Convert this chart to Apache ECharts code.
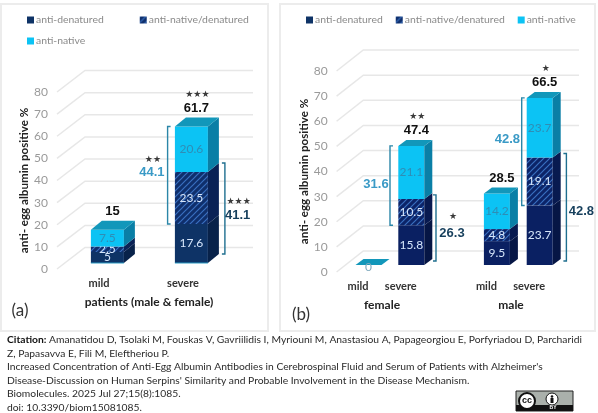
<!DOCTYPE html>
<html>
<head>
<meta charset="utf-8">
<style>html,body{margin:0;padding:0;background:#fff}#chart{width:598px;height:413px}</style>
<script src="https://cdn.jsdelivr.net/npm/echarts@6/dist/echarts.min.js"></script>
</head>
<body>
<div id="chart"></div>
<script>
// Category labels
const categoriesA = ['mild', 'severe'];
const categoriesB = ['mild', 'severe', '', 'mild', 'severe'];
const yTicks = [0, 10, 20, 30, 40, 50, 60, 70, 80];

// Panel (a): male and female patients
const denaturedA = [5, 17.6];
const mixedA = [2.5, 23.5];
const nativeA = [7.5, 20.6];
const totalsA = [15, 61.7];
const totalStarsA = [0, 3];

// Panel (b): split by sex; the empty category separates female from male
const denaturedB = [0, 15.8, null, 9.5, 23.7];
const mixedB = [0, 10.5, null, 4.8, 19.1];
const nativeB = [0, 21.1, null, 14.2, 23.7];
const totalsB = [null, 47.4, null, 28.5, 66.5];
const totalStarsB = [0, 2, 0, 0, 1];

// Bracketed sub-totals: category, lower value, upper value, significance stars
const bracketCatsA = [1, 1];
const bracketLowA = [17.6, 0];
const bracketHighA = [61.7, 41.1];
const bracketStarsA = [2, 3];
const bracketCatsB = [1, 1, 4, 4];
const bracketLowB = [15.8, 0, 23.7, 0];
const bracketHighB = [47.4, 26.3, 66.5, 42.8];
const bracketStarsB = [0, 1, 0, 0];

const citationLines = [
  '{b|Citation:} Amanatidou D, Tsolaki M, Fouskas V, Gavriilidis I, Myriouni M, Anastasiou A, Papageorgiou E, Porfyriadou D, Parcharidi',
  'Z, Papasavva E, Fili M, Eleftheriou P.',
  'Increased Concentration of Anti-Egg Albumin Antibodies in Cerebrospinal Fluid and Serum of Patients with Alzheimer\'s',
  'Disease-Discussion on Human Serpins\' Similarity and Probable Involvement in the Disease Mechanism.',
  'Biomolecules. 2025 Jul 27;15(8):1085.',
  'doi: 10.3390/biom15081085.'
];

// Pseudo-3D geometry of each panel
const geomA = { barW: 33, dx: 8.4, floor: 6, depthX: 11, depthY: 9, wallX: 28, wallY: 21.5, wallEnd: 253, baseEdge: '#2a9cc4' };
const geomB = { barW: 26, dx: 10.5, floor: 7, depthX: 8, depthY: 6, wallX: 26.7, wallY: 21, wallEnd: 579, baseEdge: null };

// Bracket placement: side, distance from the bar, lift, label and star offsets
const bracketLayoutA = [
  { side: -1, gap: 7.3, lift: 0, labelDx: -15.7, labelDy: -3, starDy: -16, color: '#3a9ac6', line: '#2b86a8' },
  { side: 1, gap: 17, lift: 9, labelDx: 12.7, labelDy: 7, starDy: -7, color: '#163f5c', line: '#1f6f8f' }
];
const bracketLayoutB = [
  { side: -1, gap: 8.3, lift: 0, labelDx: -14, labelDy: -1, starDy: 0, color: '#3a9ac6', line: '#2b86a8' },
  { side: 1, gap: 11.7, lift: 4, labelDx: 16, labelDy: 5, starDy: -11, color: '#163f5c', line: '#1f6f8f' },
  { side: -1, gap: 5, lift: 0, labelDx: -14.3, labelDy: -12.5, starDy: 0, color: '#3a9ac6', line: '#2b86a8' },
  { side: 1, gap: 13.7, lift: 4, labelDx: 15, labelDy: 4, starDy: 0, color: '#163f5c', line: '#1f6f8f' }
];

const FONT = 'Lato, "Noto Sans", sans-serif';
const BOLD_NUM = '"Liberation Sans", Arial, sans-serif';

// Diagonal hatching used for the anti-native/denatured class
function hatch(base, stripe) {
  const c = document.createElement('canvas');
  c.width = c.height = 6;
  const g = c.getContext('2d');
  g.fillStyle = base;
  g.fillRect(0, 0, 6, 6);
  g.strokeStyle = stripe;
  g.lineWidth = 1.2;
  g.beginPath();
  g.moveTo(-1, 7); g.lineTo(7, -1);
  g.moveTo(-1, 1); g.lineTo(1, -1);
  g.moveTo(5, 7); g.lineTo(7, 5);
  g.stroke();
  return { image: c, repeat: 'repeat' };
}

const nativeFace = { front: '#0cc3f4', side: '#0a7fa6', label: '#2f8db5' };
const facesA = {
  denatured: { front: '#0e3366', side: '#08224a', label: '#d6e6fb' },
  mixed: { front: hatch('#0f2f6c', '#3a70c0'), side: '#0a2256', label: '#d6e6fb' },
  native: nativeFace
};
const facesB = {
  denatured: { front: '#0a2062', side: '#061645', label: '#d6e6fb' },
  mixed: { front: hatch('#0c2468', '#3a70c0'), side: '#081a50', label: '#d6e6fb' },
  native: nativeFace
};
const TOP_FACE = '#1297ba';

function polygon(points, fill) {
  return { type: 'polygon', shape: { points }, style: { fill } };
}

// One stacked block: front face, side face, and the lid on the top class
function segmentRenderer(geom, face, hasLid) {
  return function (params, api) {
    const cat = api.value(0), start = api.value(1), end = api.value(2);
    const p0 = api.coord([cat, start]), p1 = api.coord([cat, end]);
    const x0 = p0[0] + geom.dx - geom.barW / 2, x1 = x0 + geom.barW;
    const yb = p0[1] - geom.floor, yt = p1[1] - geom.floor;
    const dX = geom.depthX, dY = geom.depthY;
    const children = [];
    if (end > start) {
      children.push({ type: 'rect', shape: { x: x0, y: yt, width: geom.barW, height: yb - yt }, style: { fill: face.front } });
      children.push(polygon([[x1, yb], [x1 + dX, yb - dY], [x1 + dX, yt - dY], [x1, yt]], face.side));
      if (start === 0 && geom.baseEdge) {
        children.push({ type: 'line', shape: { x1: x0, y1: yb, x2: x1, y2: yb }, style: { stroke: geom.baseEdge, lineWidth: 1 } });
      }
    }
    if (hasLid) {
      children.push(polygon([[x0, yt], [x0 + dX, yt - dY], [x1 + dX, yt - dY], [x1, yt]], TOP_FACE));
    }
    if (end > start || hasLid) {
      children.push({
        type: 'text',
        style: {
          text: String(+(end - start).toFixed(1)), x: (x0 + x1) / 2, y: end > start ? (yb + yt) / 2 : yb + 2,
          align: 'center', verticalAlign: 'middle', fill: end > start ? face.label : '#7fa9bd',
          font: '12px ' + FONT
        }
      });
    }
    return { type: 'group', children };
  };
}

// Floor-to-wall lines and back-wall lines for each value tick
function wallRenderer(geom) {
  return function (params, api) {
    const p = api.coord([0, api.value(0)]);
    const left = params.coordSys.x;
    const bx = left + geom.wallX, by = p[1] - geom.wallY;
    return {
      type: 'polyline',
      shape: { points: [[left, p[1]], [bx, by], [geom.wallEnd, by]] },
      style: { stroke: '#e7e7e7', lineWidth: 1.5, fill: null }
    };
  };
}

// Total above a bar, with significance stars above it
function totalRenderer(geom, lift) {
  return function (params, api) {
    const cat = api.value(0), total = api.value(1), stars = api.value(2);
    const p = api.coord([cat, total]);
    const cx = p[0] + geom.dx + 5, y = p[1] - geom.floor - lift;
    const children = [{
      type: 'text',
      style: { text: String(total), x: cx, y, align: 'center', verticalAlign: 'middle', fill: '#111', font: 'bold 13px ' + BOLD_NUM }
    }];
    if (stars > 0) {
      children.push({
        type: 'text',
        style: { text: '★'.repeat(stars), x: cx + 1, y: y - 14, align: 'center', verticalAlign: 'middle', fill: '#3a3a3a', font: '9px "DejaVu Sans"' }
      });
    }
    return { type: 'group', children };
  };
}

// Square bracket beside a bar, labelled with the span it covers
function bracketRenderer(geom, layouts) {
  return function (params, api) {
    const cat = api.value(0), low = api.value(1), high = api.value(2), stars = api.value(3);
    const lay = layouts[params.dataIndex];
    const pLow = api.coord([cat, low]), pHigh = api.coord([cat, high]);
    const x0 = pLow[0] + geom.dx - geom.barW / 2;
    const edge = lay.side < 0 ? x0 : x0 + geom.barW;
    const x = edge + lay.side * lay.gap;
    const yb = pLow[1] - geom.floor - lay.lift, yt = pHigh[1] - geom.floor - lay.lift;
    const tick = -lay.side * 3;
    const mid = (yb + yt) / 2;
    const children = [{
      type: 'polyline',
      shape: { points: [[x + tick, yt], [x, yt], [x, yb], [x + tick, yb]] },
      style: { stroke: lay.line, lineWidth: 1.4, fill: null }
    }, {
      type: 'text',
      style: {
        text: (high - low).toFixed(1), x: x + lay.labelDx, y: mid + lay.labelDy, align: 'center', verticalAlign: 'middle',
        fill: lay.color, font: 'bold 13px ' + BOLD_NUM
      }
    }];
    if (stars > 0) {
      children.push({
        type: 'text',
        style: {
          text: '★'.repeat(stars), x: x + lay.labelDx + 1, y: mid + lay.starDy, align: 'center', verticalAlign: 'middle',
          fill: '#3a3a3a', font: '9px "DejaVu Sans"'
        }
      });
    }
    return { type: 'group', children };
  };
}

// Cumulative [category, start, end] rows for one stack class
function stackRows(values, below) {
  const rows = [];
  values.forEach((v, i) => {
    if (v === null) return;
    const start = below.reduce((s, arr) => s + arr[i], 0);
    rows.push([i, start, start + v]);
  });
  return rows;
}

function panelSeries(axis, geom, faces, den, mix, nat, totals, totalStars, lift, bCats, bLow, bHigh, bStars, layouts) {
  const common = { type: 'custom', xAxisIndex: axis, yAxisIndex: axis, clip: false, silent: true };
  const totalRows = [];
  totals.forEach((t, i) => { if (t !== null) totalRows.push([i, t, totalStars[i]]); });
  return [
    { ...common, z: 1, renderItem: wallRenderer(geom), data: yTicks.map(t => [t]), encode: { y: 0 } },
    { ...common, z: 2, name: 'anti-denatured', itemStyle: { color: faces.denatured.front }, renderItem: segmentRenderer(geom, faces.denatured, false), data: stackRows(den, []), encode: { x: 0, y: [1, 2] } },
    { ...common, z: 3, name: 'anti-native/denatured', itemStyle: { color: faces.mixed.front }, renderItem: segmentRenderer(geom, faces.mixed, false), data: stackRows(mix, [den]), encode: { x: 0, y: [1, 2] } },
    { ...common, z: 4, name: 'anti-native', itemStyle: { color: faces.native.front }, renderItem: segmentRenderer(geom, faces.native, true), data: stackRows(nat, [den, mix]), encode: { x: 0, y: [1, 2] } },
    { ...common, z: 5, renderItem: totalRenderer(geom, lift), data: totalRows, encode: { x: 0, y: 1 } },
    { ...common, z: 5, renderItem: bracketRenderer(geom, layouts), data: bCats.map((c, i) => [c, bLow[i], bHigh[i], bStars[i]]), encode: { x: 0, y: [1, 2] } }
  ];
}

function yAxisFor(index, gap) {
  return {
    type: 'value', gridIndex: index, min: 0, max: 80, interval: 10,
    axisLine: { show: false }, axisTick: { show: false }, splitLine: { show: false },
    axisLabel: { color: '#9a9a9a', fontSize: 12, margin: 9, fontFamily: FONT },
    name: 'anti- egg albumin positive %', nameLocation: 'middle', nameGap: gap,
    nameTextStyle: { color: '#222', fontSize: 11.6, fontWeight: 'bold', fontFamily: FONT }
  };
}

function xAxisFor(index, cats) {
  return {
    type: 'category', gridIndex: index, data: cats,
    axisLine: { show: false }, axisTick: { show: false }, splitLine: { show: false },
    axisLabel: { color: '#333', fontSize: 11, fontWeight: 'bold', margin: 9, fontFamily: FONT, interval: 0 }
  };
}

function legendFor(names, left, top, gap) {
  return {
    data: names, left, top, icon: 'rect', itemWidth: 7, itemHeight: 7, itemGap: gap, padding: 0, selectedMode: false,
    textStyle: { color: '#8a8a8a', fontSize: 10.4, fontFamily: FONT, padding: [0, 0, 0, -3] }
  };
}

function panelFrame(x, y, w, h) {
  return { type: 'rect', z: -1, shape: { x, y, width: w, height: h }, style: { fill: '#fff', stroke: '#ececec', lineWidth: 2 } };
}

function caption(text, x, y, font, fill) {
  return { type: 'text', z: 10, style: { text, x, y, align: 'center', verticalAlign: 'middle', font, fill } };
}

const captionFont = 'bold 12px ' + FONT;
const graphics = [
  panelFrame(1, 4, 267, 327),
  panelFrame(280, 4, 315, 327),
  caption('patients (male & female)', 149, 302, captionFont, '#222'),
  caption('female', 382, 305, captionFont, '#222'),
  caption('male', 511, 305, captionFont, '#222'),
  caption('(a)', 20, 311, '17px ' + FONT, '#333'),
  caption('(b)', 301, 315, '17px ' + FONT, '#333')
];

citationLines.forEach((line, i) => {
  graphics.push({
    type: 'text', z: 10,
    style: {
      text: line, x: 7, y: 340 + i * 13.5, verticalAlign: 'middle', fill: '#2a2a2a', font: '10.3px ' + FONT,
      rich: { b: { fontWeight: 'bold', fontSize: 10.3, fontFamily: FONT, fill: '#111' } }
    }
  });
});

// Creative Commons BY badge
graphics.push({
  type: 'group', z: 10, x: 516, y: 391,
  children: [
    { type: 'rect', shape: { x: 0, y: 0, width: 57, height: 20 }, style: { fill: '#aab0ab', stroke: '#222', lineWidth: 1 } },
    { type: 'rect', shape: { x: 0, y: 14, width: 57, height: 6 }, style: { fill: '#111' } },
    { type: 'circle', shape: { cx: 11, cy: 10, r: 8 }, style: { fill: '#fff', stroke: '#111', lineWidth: 2 } },
    { type: 'text', style: { text: 'cc', x: 11, y: 10, align: 'center', verticalAlign: 'middle', font: 'bold 9px ' + BOLD_NUM, fill: '#111' } },
    { type: 'circle', shape: { cx: 36, cy: 8, r: 6 }, style: { fill: '#fff', stroke: '#111', lineWidth: 1 } },
    { type: 'circle', shape: { cx: 36, cy: 5.5, r: 1.3 }, style: { fill: '#111' } },
    { type: 'rect', shape: { x: 34.5, y: 7, width: 3, height: 5 }, style: { fill: '#111' } },
    { type: 'text', style: { text: 'BY', x: 37, y: 17, align: 'center', verticalAlign: 'middle', font: 'bold 5px ' + BOLD_NUM, fill: '#fff' } }
  ]
});

const chart = echarts.init(document.getElementById('chart'), null, { renderer: 'canvas' });
chart.setOption({
  animation: false,
  backgroundColor: '#fff',
  grid: [
    { left: 57, top: 92, width: 168, height: 177 },
    { left: 336.6, top: 71, width: 214, height: 201 }
  ],
  xAxis: [xAxisFor(0, categoriesA), xAxisFor(1, categoriesB)],
  yAxis: [yAxisFor(0, 25), yAxisFor(1, 26)],
  legend: [
    legendFor(['anti-denatured', 'anti-native/denatured'], 27, 15, 36),
    legendFor(['anti-native'], 27, 36, 10),
    legendFor(['anti-denatured', 'anti-native/denatured', 'anti-native'], 306, 15, 13)
  ],
  graphic: graphics,
  series: [
    ...panelSeries(0, geomA, facesA, denaturedA, mixedA, nativeA, totalsA, totalStarsA, 18,
      bracketCatsA, bracketLowA, bracketHighA, bracketStarsA, bracketLayoutA),
    ...panelSeries(1, geomB, facesB, denaturedB, mixedB, nativeB, totalsB, totalStarsB, 15,
      bracketCatsB, bracketLowB, bracketHighB, bracketStarsB, bracketLayoutB)
  ]
});
</script>
</body>
</html>
